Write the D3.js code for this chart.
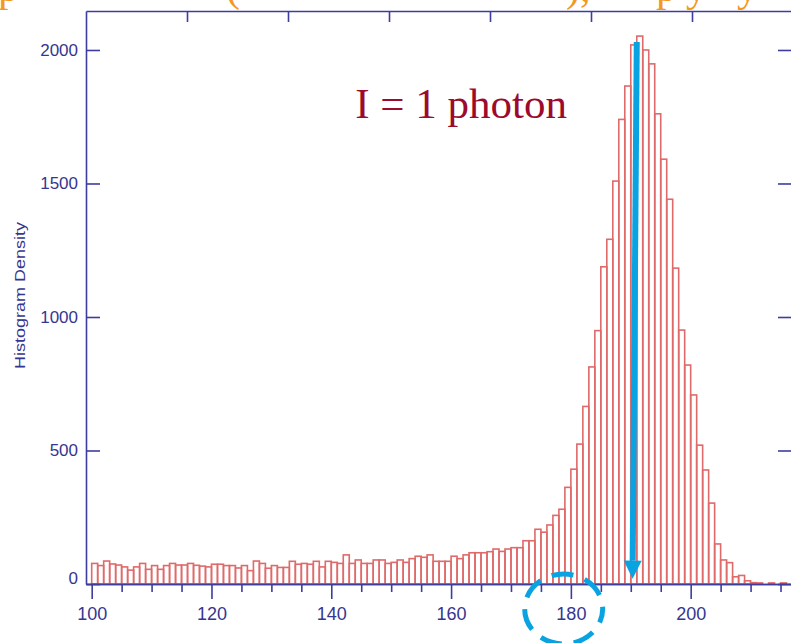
<!DOCTYPE html>
<html>
<head>
<meta charset="utf-8">
<script src="https://cdn.jsdelivr.net/npm/d3@7"></script>
<style>
  html, body { margin: 0; padding: 0; background: #ffffff; }
  svg { display: block; }
</style>
</head>
<body>
<svg id="chart" width="791" height="643"></svg>
<script>
// Histogram bins: left edge of each unit-wide bin
const binStarts = d3.range(100, 216);
// Counts per bin
const counts = [
  77, 69, 86, 75, 71, 64, 52, 64, 77, 55, 69, 55, 69, 77, 71, 71, 77, 70, 67, 64,
  74, 74, 69, 69, 60, 69, 50, 86, 77, 59, 69, 62, 62, 85, 74, 77, 74, 85, 64, 85,
  81, 77, 109, 77, 90, 77, 77, 90, 90, 77, 81, 90, 81, 95, 104, 100, 109, 85, 85, 85,
  104, 95, 109, 117, 117, 117, 121, 131, 122, 131, 136, 136, 162, 162, 205, 194, 221, 257, 280, 362,
  430, 524, 665, 813, 949, 1188, 1291, 1509, 1740, 1865, 2019, 2052, 2000, 1948, 1761, 1591, 1441, 1183, 951, 820,
  708, 520, 427, 303, 150, 90, 80, 27, 32, 12, 5, 4, 0, 4, 0, 4
];
const xMajorTicks = [100, 120, 140, 160, 180, 200];
const xMinorTicks = d3.range(100, 216, 5).filter(v => v % 20 !== 0);
const yTicks = [0, 500, 1000, 1500, 2000];
const topTicks = [1, 2, 3, 4, 5, 6];
const yTitle = "Histogram Density";
const noteText = "I = 1 photon";
// Arrow marking the peak: [x, y] at the tail and at the tip, in data units
const arrowFrom = [191.0, 2030];
const arrowTo = [190.3, 20];
// Circled axis label (data x of the ring centre)
const circledX = 178.8;
// Slide heading running off the top edge (fragments and their left offsets)
const headingBits = [
  { left: -2, t: "p" }, { left: 226, t: "(" }, { left: 566, t: ")," },
  { left: 656, t: "p" }, { left: 686, t: "y" }, { left: 737, t: "y" }
];

const svg = d3.select("#chart");
const axisColor = "#3d3d9e";
const labelColor = "#363690";
const barColor = "#df6a6a";
const blue = "#0aa3e2";

const x = d3.scaleLinear().domain([99.05, 216.8]).range([86, 791.3]);
const y = d3.scaleLinear().domain([0, 2146]).range([584, 11]);
const xTop = d3.scaleLinear().domain([0, 7]).range([86, 793]);

// Heading (orange, mostly above the visible area)
svg.append("g").selectAll("text").data(headingBits).join("text")
  .attr("x", d => d.left).attr("y", 1)
  .attr("font-family", "Liberation Serif, serif").attr("font-size", 42)
  .attr("fill", "#f29a1c").text(d => d.t);

// Bars
const bins = binStarts.map((b, i) => ({ x0: b, x1: b + 1, v: counts[i] }));
svg.append("g").selectAll("rect").data(bins).join("rect")
  .attr("x", d => x(d.x0))
  .attr("y", d => y(d.v))
  .attr("width", d => x(d.x1) - x(d.x0))
  .attr("height", d => y(0) - y(d.v))
  .attr("fill", "none")
  .attr("stroke", barColor)
  .attr("stroke-width", 1.6);

function styleAxis(g) {
  g.select(".domain").attr("stroke", axisColor).attr("stroke-width", 1.6);
  g.selectAll(".tick line").attr("stroke", axisColor).attr("stroke-width", 1.6);
  g.selectAll(".tick text").attr("fill", labelColor)
    .attr("font-family", "Liberation Sans, Arial, sans-serif");
}

// Bottom axis: major labelled ticks
const gxMajor = svg.append("g").attr("transform", `translate(0,${y(0)})`)
  .call(d3.axisBottom(x).tickValues(xMajorTicks).tickSize(15).tickSizeOuter(0).tickPadding(8).tickFormat(d3.format("d")));
styleAxis(gxMajor);
gxMajor.selectAll(".tick text").attr("font-size", 18);
// minor ticks
const gxMinor = svg.append("g").attr("transform", `translate(0,${y(0)})`)
  .call(d3.axisBottom(x).tickValues(xMinorTicks).tickSize(8).tickSizeOuter(0).tickFormat(""));
styleAxis(gxMinor);

// Left axis with inward ticks
const gy = svg.append("g").attr("transform", `translate(${x.range()[0]},0)`)
  .call(d3.axisLeft(y).tickValues(yTicks).tickSize(-14).tickSizeOuter(0).tickPadding(8).tickFormat(d3.format("d")));
styleAxis(gy);
gy.selectAll(".tick text").attr("font-size", 17);
gy.selectAll(".tick").filter(d => d === 0).select("text").attr("dy", "-0.05em");

// Right axis with inward ticks
const gr = svg.append("g").attr("transform", `translate(792,0)`)
  .call(d3.axisRight(y).tickValues(yTicks).tickSize(-14).tickSizeOuter(0).tickFormat(""));
styleAxis(gr);

// Top axis
const gt = svg.append("g").attr("transform", `translate(0,${y.range()[1]})`)
  .call(d3.axisTop(xTop).tickValues(topTicks).tickSize(-11).tickSizeOuter(0).tickFormat(""));
styleAxis(gt);

// Y title
svg.append("text")
  .attr("transform", `translate(25,${(y(0) + y(2146)) / 2 - 2}) rotate(-90)`)
  .attr("text-anchor", "middle")
  .attr("font-family", "Liberation Sans, Arial, sans-serif")
  .attr("font-size", 15)
  .attr("textLength", 147).attr("lengthAdjust", "spacingAndGlyphs")
  .attr("fill", labelColor)
  .text(yTitle);

// Annotation text
svg.append("text")
  .attr("x", x(144.0)).attr("y", y(1745))
  .attr("font-family", "Liberation Serif, 'Times New Roman', serif")
  .attr("font-size", 43)
  .attr("fill", "#9c0a2c")
  .text(noteText);

// Arrow
const ax0 = x(arrowFrom[0]), ay0 = y(arrowFrom[1]);
const ax1 = x(arrowTo[0]), ay1 = y(arrowTo[1]);
const headLen = 18, headHalf = 9;
const ang = Math.atan2(ay1 - ay0, ax1 - ax0);
const bx = ax1 - headLen * Math.cos(ang), by = ay1 - headLen * Math.sin(ang);
svg.append("line")
  .attr("x1", ax0).attr("y1", ay0).attr("x2", bx).attr("y2", by)
  .attr("stroke", blue).attr("stroke-width", 6);
svg.append("path")
  .attr("d", d3.line()([
    [ax1, ay1],
    [bx + headHalf * Math.sin(ang), by - headHalf * Math.cos(ang)],
    [bx - headHalf * Math.sin(ang), by + headHalf * Math.cos(ang)]
  ]) + "Z")
  .attr("fill", blue);

// Dashed ring around the 180 label
svg.append("ellipse")
  .attr("cx", x(circledX)).attr("cy", 609)
  .attr("rx", 39).attr("ry", 35)
  .attr("fill", "none").attr("stroke", blue)
  .attr("stroke-width", 5).attr("stroke-dasharray", "22 12")
  .attr("stroke-dashoffset", 8);
</script>
</body>
</html>
